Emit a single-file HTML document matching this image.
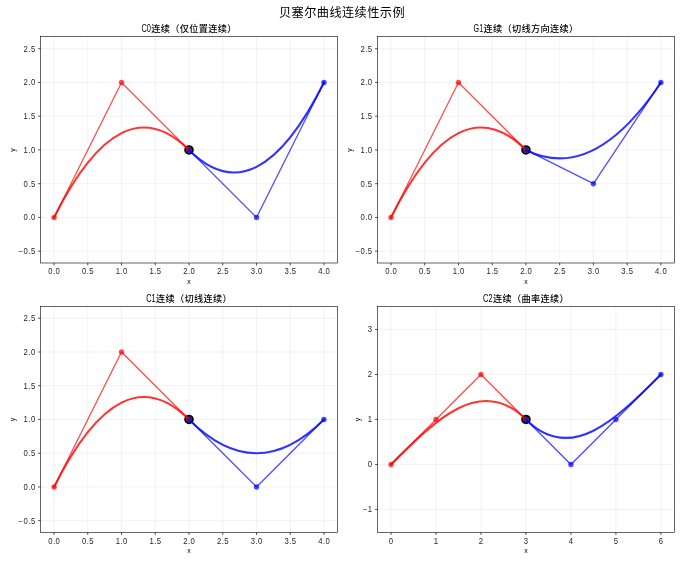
<!DOCTYPE html>
<html lang="zh"><head><meta charset="utf-8"><title>贝塞尔曲线连续性示例</title>
<style>html,body{margin:0;padding:0;background:#fff;}svg{display:block;}</style></head>
<body>
<svg width="687" height="564" viewBox="0 0 687 564" font-family='"Liberation Sans", "Noto Sans CJK SC", sans-serif'>
<rect width="687" height="564" fill="#fff"/>
<text x="342.0" y="17.4" font-size="12.2" letter-spacing="0.43" text-anchor="middle" fill="#000">贝塞尔曲线连续性示例</text>
<g>
<path d="M54.05 36.6V263.0M87.78 36.6V263.0M121.52 36.6V263.0M155.26 36.6V263.0M189.00 36.6V263.0M222.74 36.6V263.0M256.48 36.6V263.0M290.22 36.6V263.0M323.95 36.6V263.0M40.55 251.17H337.45M40.55 217.43H337.45M40.55 183.69H337.45M40.55 149.95H337.45M40.55 116.21H337.45M40.55 82.47H337.45M40.55 48.73H337.45" stroke="#b0b0b0" stroke-opacity="0.3" stroke-width="0.56" fill="none"/>
<circle cx="189.00" cy="149.95" r="3.9" fill="#008000" stroke="#000" stroke-width="1.8"/>
<g opacity="1">
<path d="M54.05 217.43L121.52 82.47L189.00 149.95" stroke="#ff0000" stroke-opacity="0.7" stroke-width="1.3" fill="none" stroke-linejoin="round"/>
<circle cx="54.05" cy="217.43" r="2.7" fill="#ff0000" fill-opacity="0.7"/>
<circle cx="121.52" cy="82.47" r="2.7" fill="#ff0000" fill-opacity="0.7"/>
<circle cx="189.00" cy="149.95" r="2.7" fill="#ff0000" fill-opacity="0.7"/>
</g>
<g opacity="1">
<path d="M189.00 149.95L256.48 217.43L323.95 82.47" stroke="#0000ff" stroke-opacity="0.7" stroke-width="1.3" fill="none" stroke-linejoin="round"/>
<circle cx="189.00" cy="149.95" r="2.7" fill="#0000ff" fill-opacity="0.7"/>
<circle cx="256.48" cy="217.43" r="2.7" fill="#0000ff" fill-opacity="0.7"/>
<circle cx="323.95" cy="82.47" r="2.7" fill="#0000ff" fill-opacity="0.7"/>
</g>
<path d="M54.05 217.43Q121.52 82.47 189.00 149.95" stroke="#ff0000" stroke-opacity="0.8" stroke-width="2.08" fill="none" stroke-linecap="square"/>
<path d="M189.00 149.95Q256.48 217.43 323.95 82.47" stroke="#0000ff" stroke-opacity="0.8" stroke-width="2.08" fill="none" stroke-linecap="square"/>
<rect x="40.55" y="36.6" width="296.90" height="226.40" fill="none" stroke="#000" stroke-width="0.6"/>
<path d="M54.05 263.0v2.43M87.78 263.0v2.43M121.52 263.0v2.43M155.26 263.0v2.43M189.00 263.0v2.43M222.74 263.0v2.43M256.48 263.0v2.43M290.22 263.0v2.43M323.95 263.0v2.43M40.55 251.17h-2.43M40.55 217.43h-2.43M40.55 183.69h-2.43M40.55 149.95h-2.43M40.55 116.21h-2.43M40.55 82.47h-2.43M40.55 48.73h-2.43" stroke="#000" stroke-width="0.7" fill="none"/>
<g font-size="8.3" fill="#262626" letter-spacing="0.5">
<text transform="translate(54.30 274.30) scale(0.93 1)" text-anchor="middle">0.0</text>
<text transform="translate(88.03 274.30) scale(0.93 1)" text-anchor="middle">0.5</text>
<text transform="translate(121.77 274.30) scale(0.93 1)" text-anchor="middle">1.0</text>
<text transform="translate(155.51 274.30) scale(0.93 1)" text-anchor="middle">1.5</text>
<text transform="translate(189.25 274.30) scale(0.93 1)" text-anchor="middle">2.0</text>
<text transform="translate(222.99 274.30) scale(0.93 1)" text-anchor="middle">2.5</text>
<text transform="translate(256.73 274.30) scale(0.93 1)" text-anchor="middle">3.0</text>
<text transform="translate(290.47 274.30) scale(0.93 1)" text-anchor="middle">3.5</text>
<text transform="translate(324.20 274.30) scale(0.93 1)" text-anchor="middle">4.0</text>
<text transform="translate(35.65 254.17) scale(0.93 1)" text-anchor="end">−0.5</text>
<text transform="translate(35.65 220.43) scale(0.93 1)" text-anchor="end">0.0</text>
<text transform="translate(35.65 186.69) scale(0.93 1)" text-anchor="end">0.5</text>
<text transform="translate(35.65 152.95) scale(0.93 1)" text-anchor="end">1.0</text>
<text transform="translate(35.65 119.21) scale(0.93 1)" text-anchor="end">1.5</text>
<text transform="translate(35.65 85.47) scale(0.93 1)" text-anchor="end">2.0</text>
<text transform="translate(35.65 51.73) scale(0.93 1)" text-anchor="end">2.5</text>
<text x="189.00" y="283.90" text-anchor="middle" font-size="6.94" letter-spacing="0" fill="#000">x</text>
<text transform="translate(14.55 149.95) rotate(-90)" text-anchor="middle" font-size="6.94" letter-spacing="0" fill="#000">y</text>
</g>
<text x="141.40" y="31.70" font-size="9.2" letter-spacing="0.31" font-weight="500" fill="#000"><tspan y="32.15" font-size="11.1" font-weight="400" letter-spacing="0" textLength="9.5" lengthAdjust="spacingAndGlyphs">C0</tspan><tspan x="151.36" y="31.70">连续（仅位置连续）</tspan></text>
</g>
<g>
<path d="M391.00 36.6V263.0M424.73 36.6V263.0M458.47 36.6V263.0M492.21 36.6V263.0M525.95 36.6V263.0M559.69 36.6V263.0M593.43 36.6V263.0M627.17 36.6V263.0M660.90 36.6V263.0M377.5 251.17H674.4M377.5 217.43H674.4M377.5 183.69H674.4M377.5 149.95H674.4M377.5 116.21H674.4M377.5 82.47H674.4M377.5 48.73H674.4" stroke="#b0b0b0" stroke-opacity="0.3" stroke-width="0.56" fill="none"/>
<circle cx="525.95" cy="149.95" r="3.9" fill="#008000" stroke="#000" stroke-width="1.8"/>
<g opacity="1">
<path d="M391.00 217.43L458.47 82.47L525.95 149.95" stroke="#ff0000" stroke-opacity="0.7" stroke-width="1.3" fill="none" stroke-linejoin="round"/>
<circle cx="391.00" cy="217.43" r="2.7" fill="#ff0000" fill-opacity="0.7"/>
<circle cx="458.47" cy="82.47" r="2.7" fill="#ff0000" fill-opacity="0.7"/>
<circle cx="525.95" cy="149.95" r="2.7" fill="#ff0000" fill-opacity="0.7"/>
</g>
<g opacity="1">
<path d="M525.95 149.95L593.43 183.69L660.90 82.47" stroke="#0000ff" stroke-opacity="0.7" stroke-width="1.3" fill="none" stroke-linejoin="round"/>
<circle cx="525.95" cy="149.95" r="2.7" fill="#0000ff" fill-opacity="0.7"/>
<circle cx="593.43" cy="183.69" r="2.7" fill="#0000ff" fill-opacity="0.7"/>
<circle cx="660.90" cy="82.47" r="2.7" fill="#0000ff" fill-opacity="0.7"/>
</g>
<path d="M391.00 217.43Q458.47 82.47 525.95 149.95" stroke="#ff0000" stroke-opacity="0.8" stroke-width="2.08" fill="none" stroke-linecap="square"/>
<path d="M525.95 149.95Q593.43 183.69 660.90 82.47" stroke="#0000ff" stroke-opacity="0.8" stroke-width="2.08" fill="none" stroke-linecap="square"/>
<rect x="377.5" y="36.6" width="296.90" height="226.40" fill="none" stroke="#000" stroke-width="0.6"/>
<path d="M391.00 263.0v2.43M424.73 263.0v2.43M458.47 263.0v2.43M492.21 263.0v2.43M525.95 263.0v2.43M559.69 263.0v2.43M593.43 263.0v2.43M627.17 263.0v2.43M660.90 263.0v2.43M377.5 251.17h-2.43M377.5 217.43h-2.43M377.5 183.69h-2.43M377.5 149.95h-2.43M377.5 116.21h-2.43M377.5 82.47h-2.43M377.5 48.73h-2.43" stroke="#000" stroke-width="0.7" fill="none"/>
<g font-size="8.3" fill="#262626" letter-spacing="0.5">
<text transform="translate(391.25 274.30) scale(0.93 1)" text-anchor="middle">0.0</text>
<text transform="translate(424.98 274.30) scale(0.93 1)" text-anchor="middle">0.5</text>
<text transform="translate(458.72 274.30) scale(0.93 1)" text-anchor="middle">1.0</text>
<text transform="translate(492.46 274.30) scale(0.93 1)" text-anchor="middle">1.5</text>
<text transform="translate(526.20 274.30) scale(0.93 1)" text-anchor="middle">2.0</text>
<text transform="translate(559.94 274.30) scale(0.93 1)" text-anchor="middle">2.5</text>
<text transform="translate(593.68 274.30) scale(0.93 1)" text-anchor="middle">3.0</text>
<text transform="translate(627.42 274.30) scale(0.93 1)" text-anchor="middle">3.5</text>
<text transform="translate(661.15 274.30) scale(0.93 1)" text-anchor="middle">4.0</text>
<text transform="translate(372.60 254.17) scale(0.93 1)" text-anchor="end">−0.5</text>
<text transform="translate(372.60 220.43) scale(0.93 1)" text-anchor="end">0.0</text>
<text transform="translate(372.60 186.69) scale(0.93 1)" text-anchor="end">0.5</text>
<text transform="translate(372.60 152.95) scale(0.93 1)" text-anchor="end">1.0</text>
<text transform="translate(372.60 119.21) scale(0.93 1)" text-anchor="end">1.5</text>
<text transform="translate(372.60 85.47) scale(0.93 1)" text-anchor="end">2.0</text>
<text transform="translate(372.60 51.73) scale(0.93 1)" text-anchor="end">2.5</text>
<text x="525.95" y="283.90" text-anchor="middle" font-size="6.94" letter-spacing="0" fill="#000">x</text>
<text transform="translate(351.50 149.95) rotate(-90)" text-anchor="middle" font-size="6.94" letter-spacing="0" fill="#000">y</text>
</g>
<text x="473.62" y="31.70" font-size="9.2" letter-spacing="0.31" font-weight="500" fill="#000"><tspan y="32.15" font-size="11.1" font-weight="400" letter-spacing="0" textLength="9.5" lengthAdjust="spacingAndGlyphs">G1</tspan><tspan x="483.58" y="31.70">连续（切线方向连续）</tspan></text>
</g>
<g>
<path d="M54.05 306.45V532.45M87.78 306.45V532.45M121.52 306.45V532.45M155.26 306.45V532.45M189.00 306.45V532.45M222.74 306.45V532.45M256.48 306.45V532.45M290.22 306.45V532.45M323.95 306.45V532.45M40.55 520.67H337.45M40.55 486.93H337.45M40.55 453.19H337.45M40.55 419.45H337.45M40.55 385.71H337.45M40.55 351.97H337.45M40.55 318.23H337.45" stroke="#b0b0b0" stroke-opacity="0.3" stroke-width="0.56" fill="none"/>
<circle cx="189.00" cy="419.45" r="3.9" fill="#008000" stroke="#000" stroke-width="1.8"/>
<g opacity="1">
<path d="M54.05 486.93L121.52 351.97L189.00 419.45" stroke="#ff0000" stroke-opacity="0.7" stroke-width="1.3" fill="none" stroke-linejoin="round"/>
<circle cx="54.05" cy="486.93" r="2.7" fill="#ff0000" fill-opacity="0.7"/>
<circle cx="121.52" cy="351.97" r="2.7" fill="#ff0000" fill-opacity="0.7"/>
<circle cx="189.00" cy="419.45" r="2.7" fill="#ff0000" fill-opacity="0.7"/>
</g>
<g opacity="1">
<path d="M189.00 419.45L256.48 486.93L323.95 419.45" stroke="#0000ff" stroke-opacity="0.7" stroke-width="1.3" fill="none" stroke-linejoin="round"/>
<circle cx="189.00" cy="419.45" r="2.7" fill="#0000ff" fill-opacity="0.7"/>
<circle cx="256.48" cy="486.93" r="2.7" fill="#0000ff" fill-opacity="0.7"/>
<circle cx="323.95" cy="419.45" r="2.7" fill="#0000ff" fill-opacity="0.7"/>
</g>
<path d="M54.05 486.93Q121.52 351.97 189.00 419.45" stroke="#ff0000" stroke-opacity="0.8" stroke-width="2.08" fill="none" stroke-linecap="square"/>
<path d="M189.00 419.45Q256.48 486.93 323.95 419.45" stroke="#0000ff" stroke-opacity="0.8" stroke-width="2.08" fill="none" stroke-linecap="square"/>
<rect x="40.55" y="306.45" width="296.90" height="226.00" fill="none" stroke="#000" stroke-width="0.6"/>
<path d="M54.05 532.45v2.43M87.78 532.45v2.43M121.52 532.45v2.43M155.26 532.45v2.43M189.00 532.45v2.43M222.74 532.45v2.43M256.48 532.45v2.43M290.22 532.45v2.43M323.95 532.45v2.43M40.55 520.67h-2.43M40.55 486.93h-2.43M40.55 453.19h-2.43M40.55 419.45h-2.43M40.55 385.71h-2.43M40.55 351.97h-2.43M40.55 318.23h-2.43" stroke="#000" stroke-width="0.7" fill="none"/>
<g font-size="8.3" fill="#262626" letter-spacing="0.5">
<text transform="translate(54.30 543.75) scale(0.93 1)" text-anchor="middle">0.0</text>
<text transform="translate(88.03 543.75) scale(0.93 1)" text-anchor="middle">0.5</text>
<text transform="translate(121.77 543.75) scale(0.93 1)" text-anchor="middle">1.0</text>
<text transform="translate(155.51 543.75) scale(0.93 1)" text-anchor="middle">1.5</text>
<text transform="translate(189.25 543.75) scale(0.93 1)" text-anchor="middle">2.0</text>
<text transform="translate(222.99 543.75) scale(0.93 1)" text-anchor="middle">2.5</text>
<text transform="translate(256.73 543.75) scale(0.93 1)" text-anchor="middle">3.0</text>
<text transform="translate(290.47 543.75) scale(0.93 1)" text-anchor="middle">3.5</text>
<text transform="translate(324.20 543.75) scale(0.93 1)" text-anchor="middle">4.0</text>
<text transform="translate(35.65 523.67) scale(0.93 1)" text-anchor="end">−0.5</text>
<text transform="translate(35.65 489.93) scale(0.93 1)" text-anchor="end">0.0</text>
<text transform="translate(35.65 456.19) scale(0.93 1)" text-anchor="end">0.5</text>
<text transform="translate(35.65 422.45) scale(0.93 1)" text-anchor="end">1.0</text>
<text transform="translate(35.65 388.71) scale(0.93 1)" text-anchor="end">1.5</text>
<text transform="translate(35.65 354.97) scale(0.93 1)" text-anchor="end">2.0</text>
<text transform="translate(35.65 321.23) scale(0.93 1)" text-anchor="end">2.5</text>
<text x="189.00" y="553.35" text-anchor="middle" font-size="6.94" letter-spacing="0" fill="#000">x</text>
<text transform="translate(14.55 419.45) rotate(-90)" text-anchor="middle" font-size="6.94" letter-spacing="0" fill="#000">y</text>
</g>
<text x="146.13" y="301.55" font-size="9.2" letter-spacing="0.31" font-weight="500" fill="#000"><tspan y="302.00" font-size="11.1" font-weight="400" letter-spacing="0" textLength="9.5" lengthAdjust="spacingAndGlyphs">C1</tspan><tspan x="156.09" y="301.55">连续（切线连续）</tspan></text>
</g>
<g>
<path d="M391.00 306.45V532.45M435.98 306.45V532.45M480.97 306.45V532.45M525.95 306.45V532.45M570.93 306.45V532.45M615.92 306.45V532.45M660.90 306.45V532.45M377.5 509.42H674.4M377.5 464.43H674.4M377.5 419.45H674.4M377.5 374.47H674.4M377.5 329.48H674.4" stroke="#b0b0b0" stroke-opacity="0.3" stroke-width="0.56" fill="none"/>
<circle cx="525.95" cy="419.45" r="3.9" fill="#008000" stroke="#000" stroke-width="1.8"/>
<g opacity="1">
<path d="M391.00 464.43L435.98 419.45L480.97 374.47L525.95 419.45" stroke="#ff0000" stroke-opacity="0.7" stroke-width="1.3" fill="none" stroke-linejoin="round"/>
<circle cx="391.00" cy="464.43" r="2.7" fill="#ff0000" fill-opacity="0.7"/>
<circle cx="435.98" cy="419.45" r="2.7" fill="#ff0000" fill-opacity="0.7"/>
<circle cx="480.97" cy="374.47" r="2.7" fill="#ff0000" fill-opacity="0.7"/>
<circle cx="525.95" cy="419.45" r="2.7" fill="#ff0000" fill-opacity="0.7"/>
</g>
<g opacity="1">
<path d="M525.95 419.45L570.93 464.43L615.92 419.45L660.90 374.47" stroke="#0000ff" stroke-opacity="0.7" stroke-width="1.3" fill="none" stroke-linejoin="round"/>
<circle cx="525.95" cy="419.45" r="2.7" fill="#0000ff" fill-opacity="0.7"/>
<circle cx="570.93" cy="464.43" r="2.7" fill="#0000ff" fill-opacity="0.7"/>
<circle cx="615.92" cy="419.45" r="2.7" fill="#0000ff" fill-opacity="0.7"/>
<circle cx="660.90" cy="374.47" r="2.7" fill="#0000ff" fill-opacity="0.7"/>
</g>
<path d="M391.00 464.43C435.98 419.45 480.97 374.47 525.95 419.45" stroke="#ff0000" stroke-opacity="0.8" stroke-width="2.08" fill="none" stroke-linecap="square"/>
<path d="M525.95 419.45C570.93 464.43 615.92 419.45 660.90 374.47" stroke="#0000ff" stroke-opacity="0.8" stroke-width="2.08" fill="none" stroke-linecap="square"/>
<rect x="377.5" y="306.45" width="296.90" height="226.00" fill="none" stroke="#000" stroke-width="0.6"/>
<path d="M391.00 532.45v2.43M435.98 532.45v2.43M480.97 532.45v2.43M525.95 532.45v2.43M570.93 532.45v2.43M615.92 532.45v2.43M660.90 532.45v2.43M377.5 509.42h-2.43M377.5 464.43h-2.43M377.5 419.45h-2.43M377.5 374.47h-2.43M377.5 329.48h-2.43" stroke="#000" stroke-width="0.7" fill="none"/>
<g font-size="8.3" fill="#262626" letter-spacing="0.5">
<text transform="translate(391.25 543.75) scale(0.93 1)" text-anchor="middle">0</text>
<text transform="translate(436.23 543.75) scale(0.93 1)" text-anchor="middle">1</text>
<text transform="translate(481.22 543.75) scale(0.93 1)" text-anchor="middle">2</text>
<text transform="translate(526.20 543.75) scale(0.93 1)" text-anchor="middle">3</text>
<text transform="translate(571.18 543.75) scale(0.93 1)" text-anchor="middle">4</text>
<text transform="translate(616.17 543.75) scale(0.93 1)" text-anchor="middle">5</text>
<text transform="translate(661.15 543.75) scale(0.93 1)" text-anchor="middle">6</text>
<text transform="translate(372.60 512.42) scale(0.93 1)" text-anchor="end">−1</text>
<text transform="translate(372.60 467.43) scale(0.93 1)" text-anchor="end">0</text>
<text transform="translate(372.60 422.45) scale(0.93 1)" text-anchor="end">1</text>
<text transform="translate(372.60 377.47) scale(0.93 1)" text-anchor="end">2</text>
<text transform="translate(372.60 332.48) scale(0.93 1)" text-anchor="end">3</text>
<text x="525.95" y="553.35" text-anchor="middle" font-size="6.94" letter-spacing="0" fill="#000">x</text>
<text transform="translate(359.70 419.45) rotate(-90)" text-anchor="middle" font-size="6.94" letter-spacing="0" fill="#000">y</text>
</g>
<text x="483.08" y="301.55" font-size="9.2" letter-spacing="0.31" font-weight="500" fill="#000"><tspan y="302.00" font-size="11.1" font-weight="400" letter-spacing="0" textLength="9.5" lengthAdjust="spacingAndGlyphs">C2</tspan><tspan x="493.04" y="301.55">连续（曲率连续）</tspan></text>
</g>
</svg>
</body></html>
